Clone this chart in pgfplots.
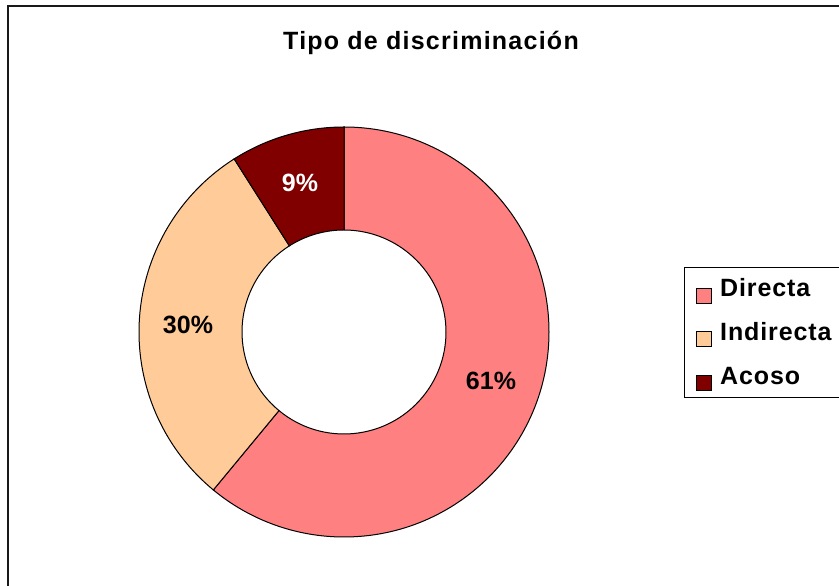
\documentclass[border=0pt]{standalone}
\usepackage{pgfplots}
\pgfplotsset{compat=1.18}
\usepackage{fontspec}
\setmainfont{Liberation Sans}
\newfontfamily\widefont[LetterSpace=5]{Liberation Sans}
\newfontfamily\legfont[LetterSpace=3.5]{Liberation Sans}
\definecolor{directa}{HTML}{FF8080}
\definecolor{indirecta}{HTML}{FFCC99}
\definecolor{acoso}{HTML}{800000}
% donut centre and radii in picture units (1 unit = 1pt)
\def\cx{344}\def\cy{254}\def\Ro{205}\def\Ri{102}
% \ring{cumulative % before}{value %}{colour}
\newcommand{\ring}[3]{%
  \filldraw[fill=#3, draw=black, line width=1pt]
    ([shift={({90-3.6*(#1)}:\Ro pt)}]axis cs:\cx,\cy)
    arc[start angle={90-3.6*(#1)}, end angle={90-3.6*(#1+#2)}, radius=\Ro pt]
    -- ([shift={({90-3.6*(#1+#2)}:\Ri pt)}]axis cs:\cx,\cy)
    arc[start angle={90-3.6*(#1+#2)}, end angle={90-3.6*(#1)}, radius=\Ri pt] -- cycle;%
}
\begin{document}
\begin{tikzpicture}
\begin{axis}[
  x=1pt, y=1pt, disabledatascaling,
  xmin=0, xmax=839, ymin=0, ymax=586,
  hide axis, clip=false,
  font=\bfseries\fontsize{25}{30}\selectfont,
]
% values: Directa 61, Indirecta 30, Acoso 9
\ring{0}{61}{directa}
\ring{61}{30}{indirecta}
\ring{91}{9}{acoso}
\node at (axis cs:491,205) {61\%};
\node at (axis cs:188,261) {30\%};
\node[white] at (axis cs:300,403) {9\%};
% title
\node at (axis cs:431,543) {\widefont\bfseries Tipo de discriminación};
% outer frame (only top and left visible)
\draw[line width=2pt, black!90] (axis cs:8,0) -- (axis cs:8,580) -- (axis cs:839,580);
% legend
\draw[line width=0.8pt] (axis cs:839,319) -- (axis cs:684,319) -- (axis cs:684,189) -- (axis cs:839,189);
\filldraw[fill=directa, draw=black, line width=0.8pt] (axis cs:696,283) rectangle (axis cs:711,298);
\filldraw[fill=indirecta, draw=black, line width=0.8pt] (axis cs:696,240) rectangle (axis cs:711,255);
\filldraw[fill=acoso, draw=black, line width=0.8pt] (axis cs:696,196) rectangle (axis cs:711,211);
\node[anchor=base west, inner sep=0pt] at (axis cs:720,289) {\legfont\bfseries Directa};
\node[anchor=base west, inner sep=0pt] at (axis cs:720,245) {\legfont\bfseries Indirecta};
\node[anchor=base west, inner sep=0pt] at (axis cs:720,201) {\legfont\bfseries Acoso};
\coordinate (BL) at (axis cs:0,0);
\coordinate (TR) at (axis cs:839,586);
\end{axis}
\pgfresetboundingbox
\useasboundingbox (BL) rectangle (TR);
\end{tikzpicture}
\end{document}
